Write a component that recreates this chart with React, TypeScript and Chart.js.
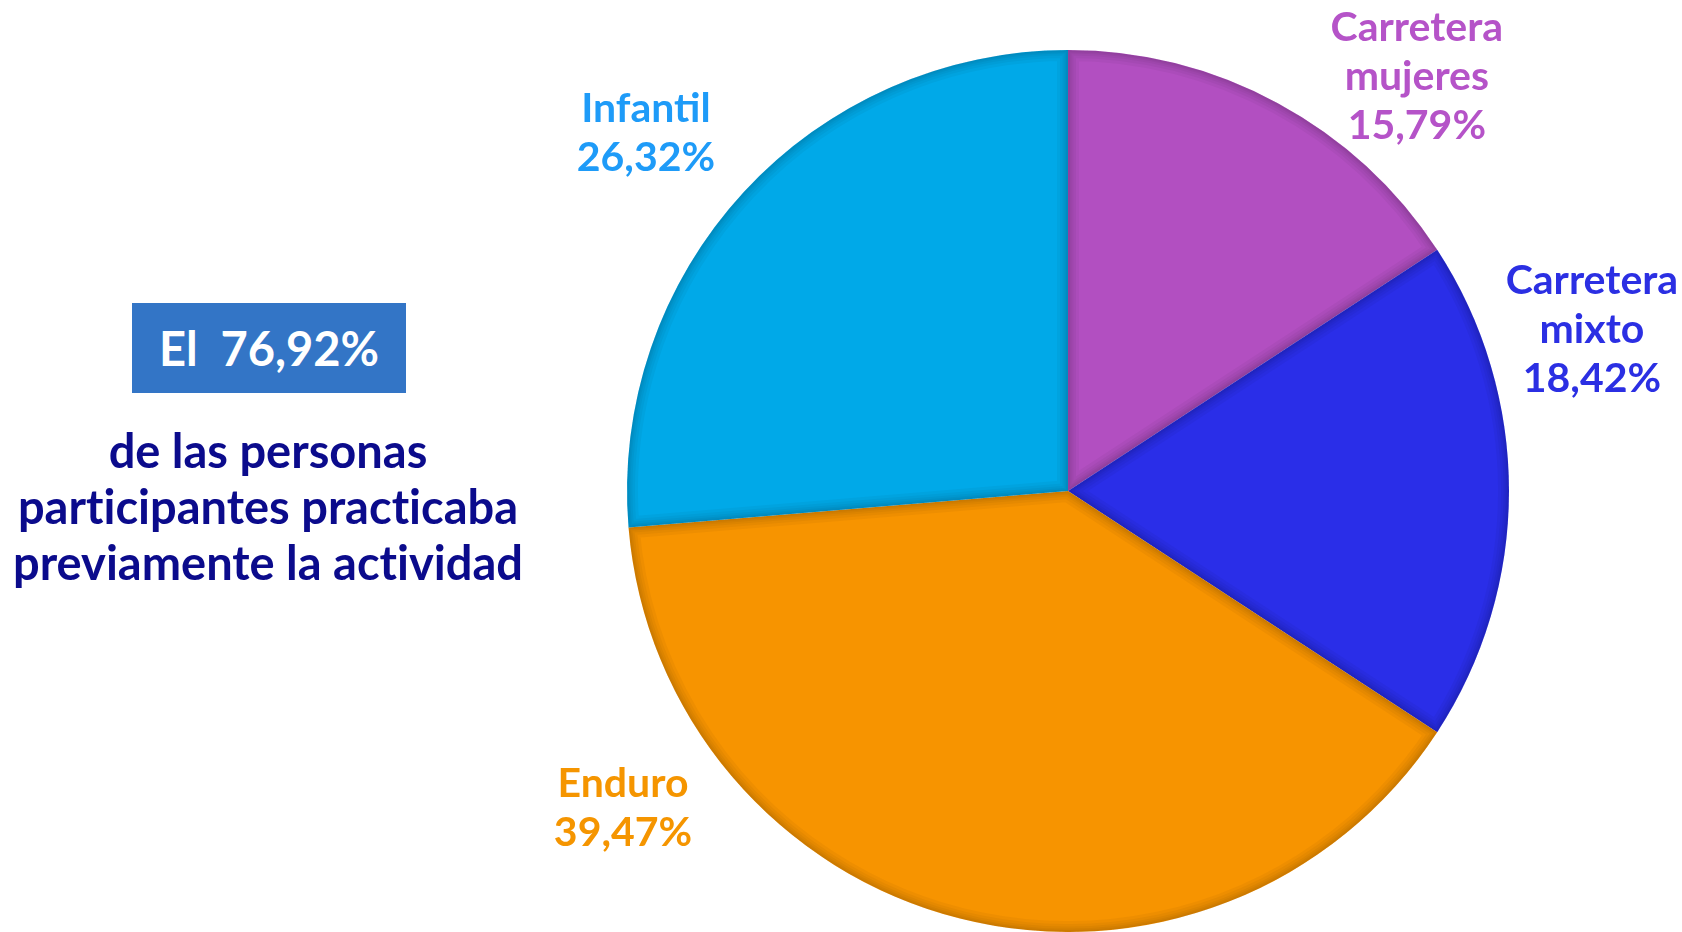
import { useEffect, useRef } from "react";
import { Chart, registerables } from "chart.js";

Chart.register(...registerables);

// ---- data ----
const categories = ["Carretera mujeres", "Carretera mixto", "Enduro", "Infantil"];
const labelLines = [["Carretera", "mujeres"], ["Carretera", "mixto"], ["Enduro"], ["Infantil"]];
const percentages = [15.79, 18.42, 39.47, 26.32];
const headlineValue = "76,92%";
const captionLines = ["de las personas", "participantes practicaba", "previamente la actividad"];

// ---- styles ----
const sliceColors = ["#B24FC1", "#2A2EE8", "#F79400", "#00A9E8"];
const labelColors = ["#B553C8", "#2B2FE3", "#F59500", "#1E9BF8"];
// label block centres relative to pie centre, in units of radius
const labelOffsets = [
  [0.791, -0.939],
  [1.188, -0.365],
  [-1.009, 0.719],
  [-0.957, -0.811],
];
const FONT = "Lato, 'Noto Sans', sans-serif";

const fmt = (v: number) => v.toFixed(2).replace(".", ",") + "%";

const labelPlugin = {
  id: "outerLabels",
  afterDatasetsDraw(chart: any) {
    const meta = chart.getDatasetMeta(0);
    const ctx = chart.ctx;
    ctx.save();
    ctx.font = `bold 41px ${FONT}`;
    ctx.textAlign = "center";
    ctx.textBaseline = "middle";
    const lh = 49;
    meta.data.forEach((arc: any, i: number) => {
      const { x, y, outerRadius } = arc.getProps(["x", "y", "outerRadius"], true);
      const lines = [...labelLines[i], fmt(percentages[i])];
      const cx = x + labelOffsets[i][0] * outerRadius;
      const cy = y + labelOffsets[i][1] * outerRadius;
      ctx.fillStyle = labelColors[i];
      lines.forEach((t, k) => {
        ctx.fillText(t, cx, cy + (k - (lines.length - 1) / 2) * lh);
      });
    });
    ctx.restore();
  },
};

const bevelPlugin = {
  id: "bevel",
  afterDatasetsDraw(chart: any) {
    const meta = chart.getDatasetMeta(0);
    const ctx = chart.ctx;
    meta.data.forEach((arc: any) => {
      const { x, y, outerRadius, startAngle, endAngle } = arc.getProps(
        ["x", "y", "outerRadius", "startAngle", "endAngle"],
        true
      );
      ctx.save();
      ctx.beginPath();
      ctx.moveTo(x, y);
      ctx.arc(x, y, outerRadius, startAngle, endAngle);
      ctx.closePath();
      ctx.clip();
      ctx.lineJoin = "miter";
      [22, 16, 11, 7, 4].forEach((w) => {
        ctx.strokeStyle = "rgba(0,0,0,0.035)";
        ctx.lineWidth = w;
        ctx.stroke();
      });
      ctx.restore();
    });
  },
};

export default function App() {
  const ref = useRef<HTMLCanvasElement | null>(null);

  useEffect(() => {
    document.body.style.margin = "0";
    const canvas = ref.current;
    if (!canvas) return;
    const chart = new Chart(canvas, {
      type: "pie",
      data: {
        labels: categories,
        datasets: [
          {
            data: percentages,
            backgroundColor: sliceColors,
            borderWidth: 0,
          },
        ],
      },
      options: {
        responsive: false,
        animation: false,
        layout: { padding: { left: 627, right: 173, top: 50, bottom: 0 } },
        plugins: {
          legend: { display: false },
          tooltip: { enabled: false },
        },
      },
      plugins: [bevelPlugin, labelPlugin],
    });
    if ((document as any).fonts && (document as any).fonts.load) {
      (document as any).fonts.load(`bold 41px Lato`).then(() => chart.update()).catch(() => {});
    }
    return () => chart.destroy();
  }, []);

  return (
    <div style={{ position: "relative", width: 1682, height: 932, overflow: "hidden", background: "#fff" }}>
      <canvas ref={ref} width={1682} height={932} style={{ position: "absolute", left: 0, top: 0, width: 1682, height: 932 }} />
      <div
        style={{
          position: "absolute",
          left: 132,
          top: 303,
          width: 274,
          height: 90,
          background: "#3375C6",
          color: "#fff",
          fontFamily: FONT,
          fontWeight: 700,
          fontSize: 47,
          fontVariantLigatures: "none",
          display: "flex",
          alignItems: "center",
          justifyContent: "center",
          whiteSpace: "pre",
        }}
      >
        {"El  " + headlineValue}
      </div>
      <div
        style={{
          position: "absolute",
          left: 0,
          width: 536,
          top: 422,
          textAlign: "center",
          color: "#0B0B8C",
          fontFamily: FONT,
          fontWeight: 700,
          fontSize: 47,
          fontVariantLigatures: "none",
          lineHeight: "56px",
          whiteSpace: "nowrap",
        }}
      >
        {captionLines.map((l, i) => (
          <div key={i}>{l}</div>
        ))}
      </div>
    </div>
  );
}
